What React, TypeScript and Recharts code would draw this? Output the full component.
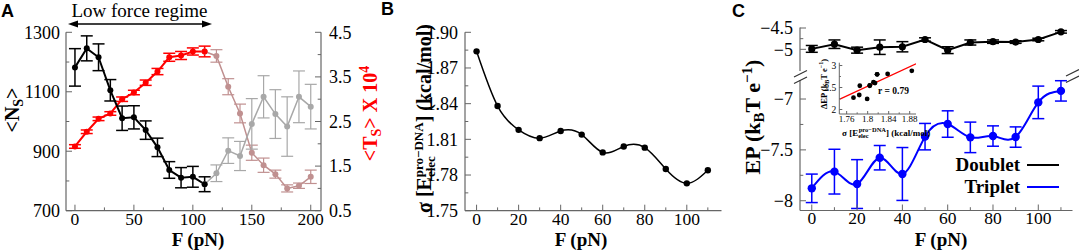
import React from "react";
import { ComposedChart, Line, XAxis, YAxis, ErrorBar, Scatter, Legend } from "recharts";

const SERIF = "'Liberation Serif', 'Times New Roman', serif";
const SANS = "'Liberation Sans', Arial, sans-serif";
const FRAME = "#666";

// ---- panel A: <Ns> and <Ts> vs force
const forceLow = [0, 10, 20, 30, 40, 50, 60, 70, 80, 90, 100, 110];
const nsLow = [1182, 1246, 1216, 1105, 1011, 1014, 971, 913, 837, 811, 814, 789];
const nsLowErr = [63, 42, 45, 36, 41, 39, 31, 31, 28, 34, 35, 25];
const tsLow = [1.94, 2.27, 2.56, 2.68, 3.0, 3.15, 3.37, 3.62, 3.94, 3.98, 4.07, 4.07];
const tsLowErr = [0.04, 0.04, 0.04, 0.04, 0.05, 0.05, 0.06, 0.07, 0.09, 0.09, 0.08, 0.12];

const forceHigh = [110, 120, 130, 140, 150, 160, 170, 180, 190, 200];
const nsHigh = [789, 826, 902, 884, 992, 1083, 1025, 983, 1083, 1050];
const nsHighErr = [null, 28, 43, 49, 85, 71, 82, 100, 87, 75];
const tsHigh = [4.07, 3.97, 3.28, 2.68, 1.8, 1.52, 1.32, 1.0, 1.06, 1.26];
const tsHighErr = [null, 0.14, 0.18, 0.21, 0.17, 0.16, 0.09, 0.08, 0.06, 0.15];

const aTicksX = [0, 25, 50, 75, 100, 125, 150, 175, 200];
const aTicksNs = [700, 800, 900, 1000, 1100, 1200, 1300];
const aTicksTs = [0.5, 1, 1.5, 2, 2.5, 3, 3.5, 4, 4.5];

// ---- panel B: sigma of electrostatic energy
const forceB = [0, 10, 20, 30, 40, 50, 60, 70, 80, 90, 100, 110];
const sigmaB = [1.884, 1.838, 1.818, 1.811, 1.817, 1.814, 1.799, 1.804, 1.803, 1.785, 1.773, 1.784];
const bTicksX = [0, 10, 20, 30, 40, 50, 60, 70, 80, 90, 100, 110];
const bTicksY = [1.75, 1.765, 1.78, 1.795, 1.81, 1.825, 1.84, 1.855, 1.87, 1.885, 1.9];

// ---- panel C: EP doublet / triplet
const forceC = [0, 10, 20, 30, 40, 50, 60, 70, 80, 90, 100, 110];
const doublet = [-4.99, -4.88, -5.02, -4.95, -4.94, -4.77, -5.02, -4.84, -4.82, -4.83, -4.77, -4.59];
const doubletErr = [0.08, 0.1, 0.07, 0.17, 0.12, 0.04, 0.08, 0.06, 0.04, 0.03, 0.03, 0.03];
const triplet = [-7.878, -7.714, -7.836, -7.577, -7.737, -7.37, -7.246, -7.377, -7.364, -7.374, -7.033, -6.92];
const tripletErr = [0.14, 0.22, 0.24, 0.12, 0.26, 0.13, 0.13, 0.15, 0.1, 0.1, 0.16, 0.1];
const cTicksX = [0, 10, 20, 30, 40, 50, 60, 70, 80, 90, 100, 110];
const cTicksUpper = [-5, -4.75, -4.5];
const cTicksLower = [-8, -7.75, -7.5, -7.25, -7];
const legendNames = ["Doublet", "Triplet"];
const legendColors = ["#000000", "#0000ff"];

// ---- inset: dEP vs sigma
const insetSigma = [1.884, 1.838, 1.818, 1.811, 1.818, 1.814, 1.799, 1.804, 1.804, 1.785, 1.773, 1.784];
const insetDEP = [2.88, 2.81, 2.8, 2.62, 2.8, 2.6, 2.24, 2.54, 2.55, 2.54, 2.27, 2.33];
const fitX = [1.746, 1.892];
const fitY = [2.23, 3.04];
const insetTicksX = [1.76, 1.78, 1.8, 1.82, 1.84, 1.86, 1.88];
const insetTicksY = [2, 2.25, 2.5, 2.75, 3];

const rows = (xs: number[], ys: number[], es?: (number | null)[]) =>
  xs.map((f, i) => ({ f, v: ys[i], e: es ? es[i] : null }));

const near = (v: number, step: number, base = 0) => {
  const k = (v - base) / step;
  return Math.abs(k - Math.round(k)) < 1e-6;
};
const minus = (s: string) => s.replace("-", "\u2212");

type Side = "left" | "right" | "bottom" | "top";
interface TickStyle {
  side: Side;
  gap: number;
  len: number;
  fmt: (v: number) => string | null;
  size?: number;
  color?: string;
  labels?: boolean;
}

const makeTick = (s: TickStyle) => (p: any) => {
  const v = Number(p.payload.value);
  const label = s.fmt(v);
  const L = label !== null ? s.len : s.len * 0.55;
  let x1 = p.x, x2 = p.x, y1 = p.y, y2 = p.y;
  let anchor = "middle";
  let dy = "0.35em";
  if (s.side === "left") {
    x1 = p.x + s.gap; x2 = x1 + L; anchor = "end";
  } else if (s.side === "right") {
    x1 = p.x - s.gap; x2 = x1 - L; anchor = "start";
  } else if (s.side === "bottom") {
    y1 = p.y - s.gap; y2 = y1 - L; dy = "0.68em";
  } else {
    y1 = p.y + s.gap; y2 = y1 + L;
  }
  return (
    <g>
      <line x1={x1} x2={x2} y1={y1} y2={y2} stroke={FRAME} strokeWidth={1} />
      {s.labels !== false && label !== null && (
        <text x={p.x} y={p.y} dy={dy} textAnchor={anchor} fontFamily={SERIF} fontSize={s.size ?? 18} fill={s.color ?? "#000"}>
          {label}
        </text>
      )}
    </g>
  );
};

const axisLine = { stroke: FRAME, strokeWidth: 1.2 };
const X_SIZE = 17.5;

const PanelA = () => {
  const dom: [number, number] = [-7.6, 208.7];
  return (
    <ComposedChart width={360} height={250} margin={{ top: 32.3, right: 0, bottom: 0, left: 0 }}>
      <XAxis xAxisId="b" dataKey="f" type="number" domain={dom} allowDataOverflow ticks={aTicksX} interval={0}
        height={39.3} tickSize={0} tickMargin={2} tickLine={false} axisLine={axisLine}
        tick={makeTick({ side: "bottom", gap: 2, len: 6, size: X_SIZE, fmt: (v) => (near(v, 50) ? String(v) : null) })} />
      <XAxis xAxisId="t" orientation="top" dataKey="f" type="number" domain={dom} allowDataOverflow ticks={aTicksX} interval={0}
        height={0} tickSize={0} tickMargin={0} tickLine={false} axisLine={axisLine}
        tick={makeTick({ side: "top", gap: 0, len: 6, labels: false, fmt: (v) => (near(v, 50) ? "" : null) })} />
      <YAxis yAxisId="ns" type="number" domain={[700, 1300]} allowDataOverflow ticks={aTicksNs} interval={0}
        width={66} tickSize={0} tickMargin={6} tickLine={false} axisLine={axisLine}
        tick={makeTick({ side: "left", gap: 6, len: 6, fmt: (v) => (near(v, 200, 700) ? String(v) : null) })} />
      <YAxis yAxisId="ts" orientation="right" type="number" domain={[0.5, 4.5]} allowDataOverflow ticks={aTicksTs} interval={0}
        width={39} tickSize={0} tickMargin={8} tickLine={false} axisLine={axisLine}
        tick={makeTick({ side: "right", gap: 8, len: 6, fmt: (v) => (near(v, 1, 0.5) ? v.toFixed(1) : null) })} />

      <Line xAxisId="b" yAxisId="ts" data={rows(forceHigh, tsHigh, tsHighErr)} dataKey="v" type="linear"
        stroke="#c09090" strokeWidth={1.5} dot={{ r: 3, fill: "#c09090", stroke: "none" }} isAnimationActive={false}>
        <ErrorBar dataKey="e" direction="y" width={6} stroke="#c09090" strokeWidth={1.2} isAnimationActive={false} />
      </Line>
      <Line xAxisId="b" yAxisId="ns" data={rows(forceHigh, nsHigh, nsHighErr)} dataKey="v" type="linear"
        stroke="#a8a8a8" strokeWidth={1.5} dot={{ r: 3, fill: "#a8a8a8", stroke: "none" }} isAnimationActive={false}>
        <ErrorBar dataKey="e" direction="y" width={6} stroke="#a8a8a8" strokeWidth={1.2} isAnimationActive={false} />
      </Line>
      <Line xAxisId="b" yAxisId="ts" data={rows(forceLow, tsLow, tsLowErr)} dataKey="v" type="linear"
        stroke="#ff0000" strokeWidth={2} dot={{ r: 3, fill: "#ff0000", stroke: "none" }} isAnimationActive={false}>
        <ErrorBar dataKey="e" direction="y" width={6} stroke="#ff0000" strokeWidth={1.5} isAnimationActive={false} />
      </Line>
      <Line xAxisId="b" yAxisId="ns" data={rows(forceLow, nsLow, nsLowErr)} dataKey="v" type="linear"
        stroke="#000" strokeWidth={2} dot={{ r: 3, fill: "#000", stroke: "none" }} isAnimationActive={false}>
        <ErrorBar dataKey="e" direction="y" width={6} stroke="#000" strokeWidth={1.5} isAnimationActive={false} />
      </Line>
    </ComposedChart>
  );
};

const PanelB = () => {
  const dom: [number, number] = [-5.5, 116.5];
  const fmtX = (v: number) => (near(v, 20) && v <= 100 ? String(v) : null);
  const fmtY = (v: number) => (near(v, 0.03, 1.75) ? v.toFixed(2) : null);
  return (
    <ComposedChart width={365} height={250} margin={{ top: 32.3, right: 3.5, bottom: 0, left: 0 }}>
      <XAxis xAxisId="b" dataKey="f" type="number" domain={dom} allowDataOverflow ticks={bTicksX} interval={0}
        height={39.3} tickSize={0} tickMargin={2} tickLine={false} axisLine={axisLine}
        tick={makeTick({ side: "bottom", gap: 2, len: 6, size: X_SIZE, fmt: fmtX })} />
      <XAxis xAxisId="t" orientation="top" dataKey="f" type="number" domain={dom} allowDataOverflow ticks={bTicksX} interval={0}
        height={0} tickSize={0} tickMargin={0} tickLine={false} axisLine={axisLine}
        tick={makeTick({ side: "top", gap: 0, len: 6, labels: false, fmt: fmtX })} />
      <YAxis yAxisId="l" type="number" domain={[1.75, 1.9]} allowDataOverflow ticks={bTicksY} interval={0}
        width={105} tickSize={0} tickMargin={7} tickLine={false} axisLine={axisLine}
        tick={makeTick({ side: "left", gap: 7, len: 6, fmt: fmtY })} />
      <YAxis yAxisId="r" orientation="right" type="number" domain={[1.75, 1.9]} allowDataOverflow ticks={bTicksY} interval={0}
        width={0} tickSize={0} tickMargin={0} tickLine={false} axisLine={axisLine}
        tick={makeTick({ side: "right", gap: 0, len: 6, labels: false, fmt: fmtY })} />
      <Line xAxisId="b" yAxisId="l" data={rows(forceB, sigmaB)} dataKey="v" type="natural"
        stroke="#000" strokeWidth={1.5} dot={{ r: 3.2, fill: "#000", stroke: "none" }} isAnimationActive={false} />
    </ComposedChart>
  );
};

const C_DOM: [number, number] = [-5.2, 115.1];
const fmtCX = (v: number) => (near(v, 20) && v <= 100 ? String(v) : null);

const PanelCUpper = () => {
  const yDom: [number, number] = [-5.509, -4.488];
  const fmtY = (v: number) => (near(v, 0.5) ? minus(String(v)) : null);
  return (
    <ComposedChart width={359} height={80} margin={{ top: 27.5, right: 6.5, bottom: 9, left: 0 }}>
      <XAxis xAxisId="b" dataKey="f" type="number" domain={C_DOM} allowDataOverflow hide />
      <XAxis xAxisId="t" orientation="top" dataKey="f" type="number" domain={C_DOM} allowDataOverflow ticks={cTicksX} interval={0}
        height={0} tickSize={0} tickMargin={0} tickLine={false} axisLine={axisLine}
        tick={makeTick({ side: "top", gap: 0, len: 6, labels: false, fmt: fmtCX })} />
      <YAxis yAxisId="l" type="number" domain={yDom} allowDataOverflow ticks={cTicksUpper} interval={0}
        width={80} tickSize={0} tickMargin={7} tickLine={false} axisLine={axisLine}
        tick={makeTick({ side: "left", gap: 7, len: 6, fmt: fmtY })} />
      <YAxis yAxisId="r" orientation="right" type="number" domain={yDom} allowDataOverflow ticks={cTicksUpper} interval={0}
        width={0} tickSize={0} tickMargin={0} tickLine={false} axisLine={axisLine}
        tick={makeTick({ side: "right", gap: 0, len: 6, labels: false, fmt: fmtY })} />
      <Line xAxisId="b" yAxisId="l" data={rows(forceC, doublet, doubletErr)} dataKey="v" type="linear"
        stroke="#000" strokeWidth={2} dot={{ r: 3.6, fill: "#000", stroke: "none" }} isAnimationActive={false}>
        <ErrorBar dataKey="e" direction="y" width={6} stroke="#000" strokeWidth={1.5} isAnimationActive={false} />
      </Line>
    </ComposedChart>
  );
};

const PanelCLower = () => {
  const yDom: [number, number] = [-8.096, -6.813];
  const fmtY = (v: number) => (near(v, 0.5) ? minus(String(v)) : null);
  return (
    <ComposedChart width={359} height={250} margin={{ top: 80, right: 6.5, bottom: 0, left: 0 }}>
      <XAxis xAxisId="b" dataKey="f" type="number" domain={C_DOM} allowDataOverflow ticks={cTicksX} interval={0}
        height={39.5} tickSize={0} tickMargin={2} tickLine={false} axisLine={axisLine}
        tick={makeTick({ side: "bottom", gap: 2, len: 6, size: X_SIZE, fmt: fmtCX })} />
      <YAxis yAxisId="l" type="number" domain={yDom} allowDataOverflow ticks={cTicksLower} interval={0}
        width={80} tickSize={0} tickMargin={7} tickLine={false} axisLine={axisLine}
        tick={makeTick({ side: "left", gap: 7, len: 6, fmt: fmtY })} />
      <YAxis yAxisId="r" orientation="right" type="number" domain={yDom} allowDataOverflow ticks={cTicksLower} interval={0}
        width={0} tickSize={0} tickMargin={0} tickLine={false} axisLine={axisLine}
        tick={makeTick({ side: "right", gap: 0, len: 6, labels: false, fmt: fmtY })} />
      <Line xAxisId="b" yAxisId="l" data={rows(forceC, triplet, tripletErr)} dataKey="v" type="natural"
        stroke="#0000ff" strokeWidth={2} dot={{ r: 4.2, fill: "#0000ff", stroke: "none" }} isAnimationActive={false}>
        <ErrorBar dataKey="e" direction="y" width={6} stroke="#0000ff" strokeWidth={1.5} isAnimationActive={false} />
      </Line>
      <Legend layout="vertical" align="center" verticalAlign="middle"
        wrapperStyle={{ left: 200, top: 154, width: 145, height: 46 }}
        content={() => (
          <div style={{ fontFamily: SERIF, fontWeight: "bold", fontSize: 19, lineHeight: "22px" }}>
            {legendNames.map((n, i) => (
              <div key={n} style={{ display: "flex", alignItems: "center", height: 22 }}>
                <span style={{ width: 100, textAlign: "right" }}>{n}</span>
                <svg width={40} height={22}>
                  <line x1={7} x2={39} y1={11} y2={11} stroke={legendColors[i]} strokeWidth={2} />
                </svg>
              </div>
            ))}
          </div>
        )} />
    </ComposedChart>
  );
};

const Inset = () => {
  const xDom: [number, number] = [1.746, 1.892];
  const yDom: [number, number] = [1.898, 3.064];
  const fmtX = (v: number) => (near(v, 0.04, 1.76) ? String(+v.toFixed(2)) : null);
  const fmtY = (v: number) => (near(v, 0.5) ? String(v) : null);
  const pts = insetSigma.map((x, i) => ({ x, y: insetDEP[i] }));
  const fit = fitX.map((x, i) => ({ x, y: fitY[i] }));
  return (
    <ComposedChart width={110} height={90} margin={{ top: 7.7, right: 4, bottom: 0, left: 0 }}>
      <XAxis xAxisId="b" dataKey="x" type="number" domain={xDom} allowDataOverflow ticks={insetTicksX} interval={0}
        height={31} tickSize={0} tickMargin={1.5} tickLine={false} axisLine={{ stroke: FRAME, strokeWidth: 1 }}
        tick={makeTick({ side: "bottom", gap: 1.5, len: 3, size: 9, fmt: fmtX })} />
      <XAxis xAxisId="t" orientation="top" dataKey="x" type="number" domain={xDom} allowDataOverflow ticks={insetTicksX} interval={0}
        height={0} tickSize={0} tickMargin={0} tickLine={false} axisLine={{ stroke: FRAME, strokeWidth: 1 }}
        tick={makeTick({ side: "top", gap: 0, len: 3, labels: false, fmt: fmtX })} />
      <YAxis yAxisId="l" dataKey="y" type="number" domain={yDom} allowDataOverflow ticks={insetTicksY} interval={0}
        width={29.3} tickSize={0} tickMargin={3} tickLine={false} axisLine={{ stroke: FRAME, strokeWidth: 1 }}
        tick={makeTick({ side: "left", gap: 3, len: 3, size: 9.5, fmt: fmtY })} />
      <YAxis yAxisId="r" orientation="right" type="number" domain={yDom} allowDataOverflow ticks={insetTicksY} interval={0}
        width={0} tickSize={0} tickMargin={0} tickLine={false} axisLine={{ stroke: FRAME, strokeWidth: 1 }}
        tick={makeTick({ side: "right", gap: 0, len: 3, labels: false, fmt: fmtY })} />
      <Line xAxisId="b" yAxisId="l" data={fit} dataKey="y" type="linear" stroke="#ff0000" strokeWidth={1.2}
        dot={false} isAnimationActive={false} />
      <Scatter xAxisId="b" yAxisId="l" data={pts} dataKey="y" fill="#000" isAnimationActive={false}
        shape={(p: any) => <circle cx={p.cx} cy={p.cy} r={2.4} fill="#000" />} />
    </ComposedChart>
  );
};

const Overlay = () => (
  <svg width={1079} height={250} style={{ position: "absolute", left: 0, top: 0, pointerEvents: "none" }}>
    {/* panel letters */}
    <text x={1} y={16.5} fontFamily={SANS} fontWeight="bold" fontSize={18}>A</text>
    <text x={381} y={15} fontFamily={SANS} fontWeight="bold" fontSize={18}>B</text>
    <text x={732} y={17} fontFamily={SANS} fontWeight="bold" fontSize={18}>C</text>

    {/* low force regime annotation */}
    <text x={139.5} y={16.5} textAnchor="middle" fontFamily={SERIF} fontSize={19}>Low force regime</text>
    <line x1={74} x2={206} y1={24} y2={24} stroke="#000" strokeWidth={1.5} />
    <polygon points="68,24 78,20.5 78,27.5" fill="#000" />
    <polygon points="212,24 202,20.5 202,27.5" fill="#000" />

    {/* axis titles */}
    <g fontFamily={SERIF} fontWeight="bold">
      <text x={198} y={245.6} textAnchor="middle" fontSize={19}>F (pN)</text>
      <text x={581} y={245.6} textAnchor="middle" fontSize={19}>F (pN)</text>
      <text x={941} y={245.6} textAnchor="middle" fontSize={19}>F (pN)</text>

      <text transform="translate(18.5,110) rotate(-90)" textAnchor="middle" fontSize={20}>
        {"<N"}<tspan fontSize={14} dy={4}>S</tspan><tspan dy={-4}>{">"}</tspan>
      </text>
      <text transform="translate(377,113.5) rotate(-90)" textAnchor="middle" fontSize={20} fill="#ff0000">
        {"<T"}<tspan fontSize={14} dy={4}>S</tspan><tspan dy={-4}>{"> X 10"}</tspan>
        <tspan fontSize={14} dy={-8}>4</tspan>
      </text>
      <text transform="translate(431,213) rotate(-90)" fontSize={20}>
        {"\u03c3 [E"}<tspan fontSize={13} dy={4}>elec</tspan>
        <tspan fontSize={13} dx={-21} dy={-12}>{"pro\u2212DNA"}</tspan>
        <tspan dy={8}>] (kcal/mol)</tspan>
      </text>
      <text transform="translate(760,117) rotate(-90)" textAnchor="middle" fontSize={22}>
        {"EP (k"}<tspan fontSize={15} dy={4}>B</tspan><tspan dy={-4}>{"T e"}</tspan>
        <tspan fontSize={15} dy={-8}>{"\u22121"}</tspan><tspan dy={8}>)</tspan>
      </text>

      {/* inset titles */}
      <text transform="translate(826.5,84) rotate(-90)" textAnchor="middle" fontSize={8.5}>
        {"\u0394EP (k"}<tspan fontSize={6} dy={2}>B</tspan><tspan dy={-2}>{"T e"}</tspan>
        <tspan fontSize={6} dy={-4}>{"\u22121"}</tspan><tspan dy={4}>)</tspan>
      </text>
      <text x={842} y={136} fontSize={9}>
        {"\u03c3 [E"}<tspan fontSize={6.5} dy={2}>elec</tspan>
        <tspan fontSize={6.5} dx={-10} dy={-6}>{"pro\u2212DNA"}</tspan>
        <tspan dy={4}>] (kcal/mol)</tspan>
      </text>
      <text x={893.5} y={94} textAnchor="middle" fontSize={9.5}>r = 0.79</text>
    </g>

    {/* axis break marks */}
    <g stroke="#333" strokeWidth={1.2}>
      <line x1={794} y1={77} x2={807} y2={70.5} />
      <line x1={794} y1={83.5} x2={807} y2={77} />
      <line x1={1066} y1={76} x2={1079} y2={69.5} />
      <line x1={1066} y1={82.5} x2={1079} y2={76} />
    </g>
  </svg>
);

export default function App() {
  return (
    <div style={{ position: "absolute", left: 0, top: 0, width: 1079, height: 250, background: "#fff", overflow: "hidden" }}>
      <div style={{ position: "absolute", left: 0, top: 0 }}><PanelA /></div>
      <div style={{ position: "absolute", left: 360, top: 0 }}><PanelB /></div>
      <div style={{ position: "absolute", left: 720, top: 0 }}><PanelCLower /></div>
      <div style={{ position: "absolute", left: 720, top: 0 }}><PanelCUpper /></div>
      <div style={{ position: "absolute", left: 810, top: 55 }}><Inset /></div>
      <Overlay />
    </div>
  );
}
